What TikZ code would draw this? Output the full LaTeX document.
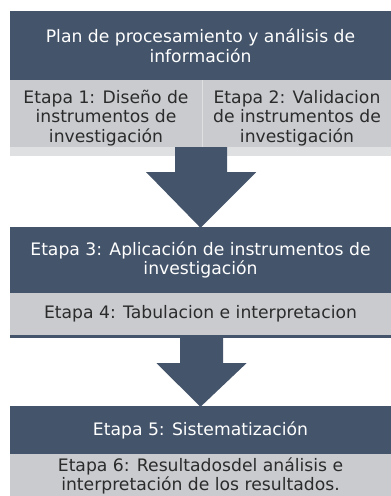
\documentclass[tikz,border=0pt]{standalone}
\usepackage{fontspec}
\setmainfont{DejaVu Sans}
\definecolor{slate}{HTML}{44546A}
\definecolor{lightbox}{HTML}{C9CBCF}
\definecolor{stripgray}{HTML}{DFE0E2}
\definecolor{inktext}{HTML}{2B2B2B}
\tikzset{
  darkbox/.style={fill=slate, text=white, inner sep=0pt, align=center, minimum width=381pt},
  lightbox/.style={fill=lightbox, text=inktext, inner sep=0pt, align=center},
  blockarrow/.style={fill=slate}
}
\begin{document}
\begin{tikzpicture}[x=1pt, y=-1pt, font=\fontsize{17.2}{19.5}\selectfont]
    \useasboundingbox[fill=white] (0,0) rectangle (391,496);

    % top block
    \node[darkbox, minimum height=69pt] (plan) at (200.5,45.5)
        {Plan de procesamiento y análisis de\\información};
    \node[lightbox, minimum width=192pt, minimum height=76pt] (e1) at (106,118)
        {Etapa 1: Diseño de\\instrumentos de\\investigación};
    \node[lightbox, minimum width=188pt, minimum height=76pt] (e2) at (297,118)
        {Etapa 2: Validacion\\de instrumentos de\\investigación};
    \fill[stripgray] (e1.north east) rectangle (e2.south west);
    \fill[stripgray] ([yshift=9pt]e1.south west) rectangle (e2.south east);

    % middle block
    \node[darkbox, minimum height=66pt] (e3) at (200.5,260)
        {Etapa 3: Aplicación de instrumentos de\\investigación};
    \node[lightbox, minimum width=381pt, minimum height=42pt] (e4) at (200.5,314)
        {Etapa 4: Tabulacion e interpretacion};
    \fill[slate] (e4.south west) rectangle ([yshift=-3pt]e4.south east);

    % bottom block
    \node[darkbox, minimum height=48pt] (e5) at (200.5,430)
        {Etapa 5: Sistematización};
    \node[lightbox, minimum width=381pt, minimum height=44pt] (e6) at (200.5,476)
        {Etapa 6: Resultadosdel análisis e\\interpretación de los resultados.};

    % arrows
    \coordinate (a1) at ([xshift=-1pt,yshift=9pt]e1.south east);
    \fill[blockarrow] ([xshift=-26pt]a1) -- ([xshift=26pt]a1) -- ([xshift=26pt,yshift=-25pt]a1)
        -- ([xshift=55pt,yshift=-25pt]a1) -- ([yshift=-1pt]e3.north)
        -- ([xshift=-55pt,yshift=-25pt]a1) -- ([xshift=-26pt,yshift=-25pt]a1) -- cycle;

    \coordinate (a2) at ([xshift=1pt,yshift=-3pt]e4.south);
    \fill[blockarrow] ([xshift=-21.5pt]a2) -- ([xshift=21.5pt]a2) -- ([xshift=21.5pt,yshift=-25pt]a2)
        -- ([xshift=45pt,yshift=-25pt]a2) -- ([yshift=-1pt]e5.north)
        -- ([xshift=-45pt,yshift=-25pt]a2) -- ([xshift=-21.5pt,yshift=-25pt]a2) -- cycle;

\end{tikzpicture}
\end{document}
